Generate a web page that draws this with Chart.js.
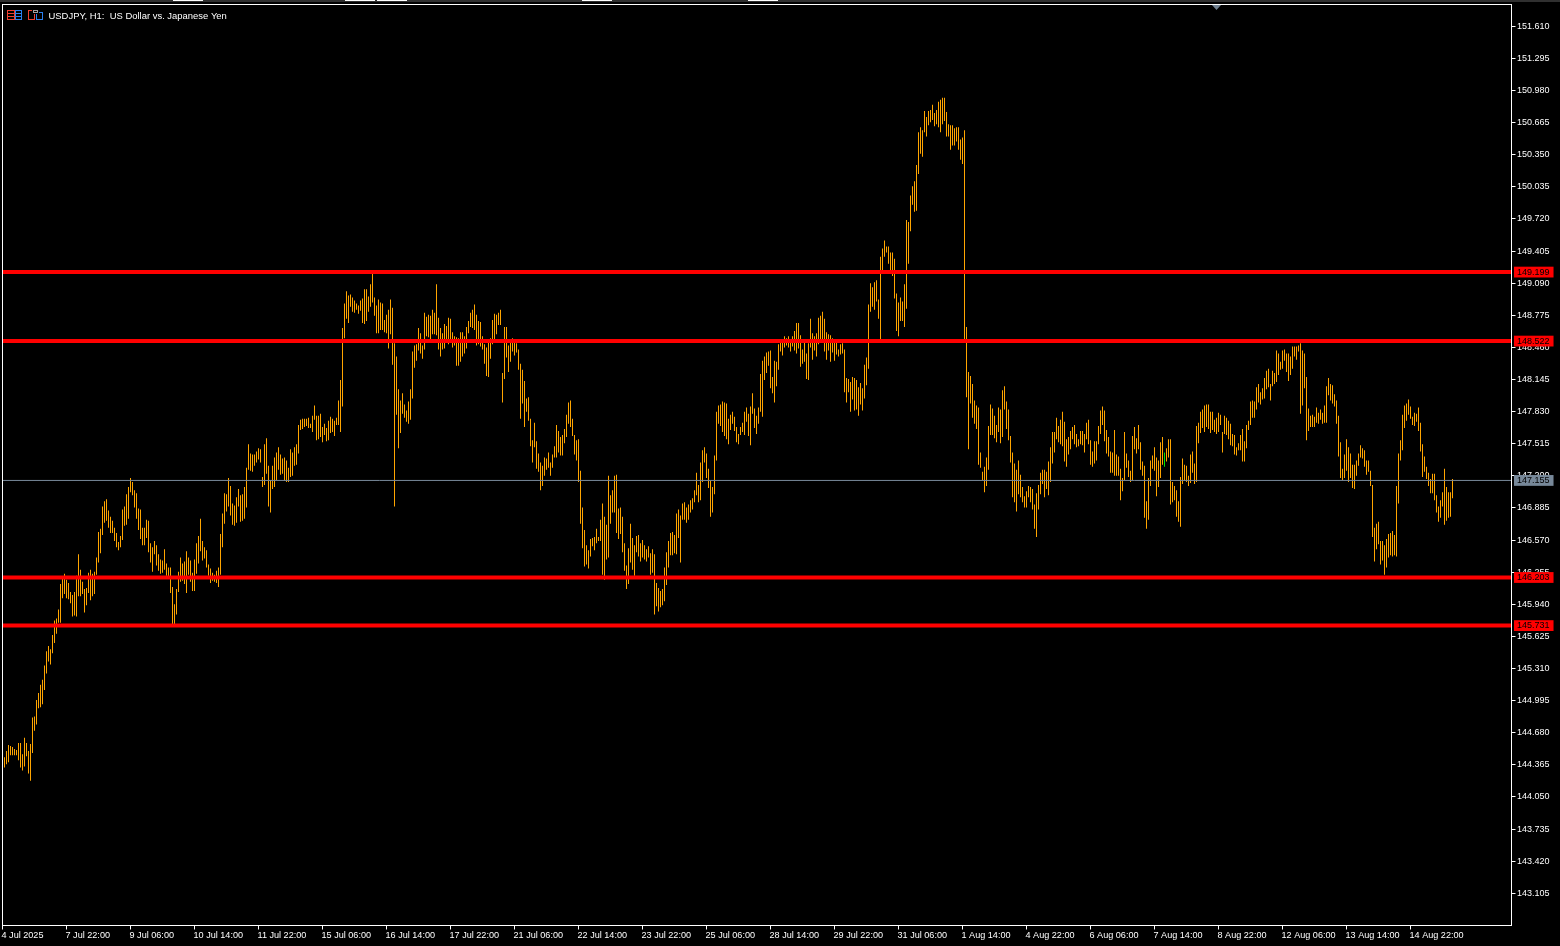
<!DOCTYPE html>
<html>
<head>
<meta charset="utf-8">
<title>USDJPY, H1</title>
<script src="https://cdn.jsdelivr.net/npm/chart.js@4"></script>
<style>
html, body { margin: 0; padding: 0; background: #000; }
canvas { display: block; }
</style>
</head>
<body>
<canvas id="priceChart" width="1560" height="946"></canvas>
<script>
// H1 bar highs and lows, first visible bar to last
const highs = [
144.44,144.50,144.56,144.55,144.54,144.52,144.51,144.58,144.58,144.47,
144.63,144.58,144.50,144.57,144.83,144.84,145.00,145.07,145.15,145.20,
145.34,145.48,145.53,145.50,145.64,145.78,145.80,145.89,146.14,146.19,
146.24,146.18,146.15,146.06,146.03,146.06,146.22,146.43,146.28,146.16,
146.09,146.10,146.25,146.28,146.24,146.26,146.40,146.65,146.68,146.90,
146.95,146.97,146.86,146.80,146.76,146.69,146.64,146.55,146.61,146.87,
146.90,147.02,147.09,147.18,147.14,147.06,147.03,146.88,146.87,146.69,
146.69,146.77,146.76,146.54,146.50,146.56,146.52,146.43,146.38,146.37,
146.48,146.34,146.30,146.30,146.11,145.94,146.09,146.26,146.40,146.34,
146.36,146.46,146.40,146.37,146.25,146.38,146.54,146.61,146.78,146.56,
146.50,146.47,146.33,146.29,146.25,146.23,146.27,146.30,146.63,146.83,
147.03,147.02,147.18,147.10,146.93,146.91,146.99,147.07,147.01,147.02,
147.09,147.28,147.51,147.42,147.41,147.41,147.44,147.47,147.46,147.19,
147.51,147.57,147.30,147.16,147.30,147.38,147.43,147.48,147.41,147.37,
147.38,147.35,147.28,147.46,147.43,147.48,147.51,147.70,147.75,147.76,
147.76,147.76,147.77,147.71,147.79,147.89,147.79,147.79,147.81,147.68,
147.71,147.67,147.74,147.78,147.76,147.74,147.77,147.94,148.14,148.65,
148.89,149.01,148.97,148.98,148.95,148.92,148.89,148.87,148.92,148.94,
149.03,149.03,148.96,149.08,149.18,148.95,148.87,148.93,148.90,148.89,
148.73,148.78,148.83,148.93,148.85,148.50,148.37,148.05,147.94,148.01,
147.90,147.84,147.93,148.05,148.42,148.48,148.49,148.65,148.60,148.48,
148.80,148.76,148.78,148.77,148.83,148.80,149.08,148.75,148.65,148.60,
148.69,148.67,148.75,148.74,148.61,148.57,148.56,148.55,148.61,148.61,
148.57,148.66,148.72,148.80,148.83,148.88,148.78,148.72,148.71,148.57,
148.49,148.46,148.51,148.55,148.73,148.79,148.78,148.80,148.83,148.21,
148.66,148.66,148.48,148.54,148.55,148.52,148.50,148.44,148.30,148.24,
148.13,147.96,147.97,147.76,147.55,147.72,147.54,147.42,147.33,147.30,
147.38,147.37,147.43,147.33,147.41,147.49,147.70,147.64,147.58,147.60,
147.66,147.80,147.92,147.94,147.76,147.60,147.55,147.56,147.25,146.89,
146.67,146.52,146.47,146.58,146.59,146.60,146.68,146.60,146.77,146.93,
146.80,146.72,147.20,147.01,147.06,147.20,147.21,146.88,146.89,146.80,
146.54,146.32,146.49,146.73,146.59,146.52,146.61,146.62,146.54,146.57,
146.52,146.48,146.51,146.44,146.48,146.43,146.15,146.10,146.07,146.09,
146.30,146.45,146.56,146.64,146.65,146.62,146.83,146.87,146.81,146.93,
146.94,146.89,146.92,146.96,146.98,147.06,147.23,147.11,147.33,147.45,
147.48,147.42,147.27,147.15,147.09,147.40,147.83,147.89,147.90,147.93,
147.92,147.91,147.76,147.80,147.83,147.78,147.68,147.61,147.68,147.72,
147.83,147.87,147.81,147.88,148.01,147.86,147.79,147.87,148.20,148.33,
148.37,148.41,148.42,148.43,148.17,148.33,148.32,148.49,148.53,148.52,
148.57,148.55,148.57,148.53,148.57,148.62,148.70,148.70,148.58,148.44,
148.52,148.40,148.50,148.74,148.60,148.57,148.60,148.75,148.77,148.81,
148.74,148.61,148.59,148.58,148.55,148.54,148.53,148.44,148.49,148.50,
148.44,148.16,148.15,148.12,148.17,148.16,148.14,148.07,148.11,148.06,
148.29,148.36,148.88,149.09,149.05,149.10,149.12,148.93,149.35,149.43,
149.51,149.45,149.45,149.39,149.39,149.33,148.99,148.90,148.95,148.91,
149.08,149.71,149.69,149.95,150.04,150.09,150.25,150.57,150.62,150.59,
150.78,150.72,150.78,150.79,150.84,150.76,150.79,150.87,150.89,150.91,
150.91,150.77,150.65,150.64,150.64,150.61,150.62,150.62,150.50,150.52,
150.59,148.66,148.22,148.18,148.10,147.94,147.89,147.87,147.43,147.24,
147.29,147.38,147.69,147.90,147.86,147.79,147.70,147.87,147.85,148.04,
148.08,147.93,147.85,147.59,147.43,147.32,147.26,147.35,147.21,147.09,
147.00,147.05,147.10,147.09,147.07,146.92,147.03,147.11,147.23,147.26,
147.26,147.24,147.34,147.48,147.63,147.63,147.77,147.69,147.75,147.83,
147.73,147.56,147.58,147.64,147.68,147.70,147.61,147.56,147.64,147.64,
147.61,147.72,147.75,147.55,147.44,147.54,147.54,147.69,147.84,147.88,
147.84,147.65,147.58,147.44,147.43,147.65,147.41,147.39,147.27,147.18,
147.63,147.42,147.35,147.25,147.59,147.68,147.57,147.70,147.53,147.34,
147.30,146.95,147.18,147.35,147.40,147.48,147.38,147.35,147.53,147.58,
147.43,147.47,147.56,147.56,147.14,147.10,147.06,146.95,147.19,147.37,
147.31,147.30,147.20,147.41,147.44,147.32,147.69,147.72,147.83,147.85,
147.89,147.90,147.90,147.83,147.83,147.75,147.77,147.82,147.80,147.63,
147.79,147.77,147.74,147.71,147.61,147.60,147.48,147.52,147.60,147.66,
147.54,147.70,147.74,147.93,147.94,147.93,148.07,148.10,148.02,148.06,
148.16,148.23,148.25,148.10,148.23,148.21,148.43,148.40,148.32,148.43,
148.44,148.40,148.40,148.37,148.47,148.47,148.47,148.48,148.50,148.43,
148.40,148.17,147.86,147.79,147.80,147.78,147.87,147.82,147.85,147.82,
147.89,148.08,148.16,148.10,148.09,148.00,147.94,147.79,147.53,147.27,
147.41,147.56,147.48,147.42,147.31,147.31,147.35,147.42,147.50,147.47,
147.45,147.35,147.35,147.25,147.11,146.69,146.73,146.75,146.56,146.56,
146.52,146.58,146.63,146.64,146.66,146.62,147.10,147.42,147.55,147.80,
147.89,147.91,147.95,147.88,147.78,147.82,147.81,147.87,147.72,147.51,
147.39,147.29,147.23,147.17,147.22,147.22,147.01,146.90,146.96,147.04,
147.27,147.09,147.04,147.04,147.17
];
const lows = [
144.34,144.37,144.39,144.46,144.46,144.46,144.46,144.41,144.34,144.31,
144.35,144.45,144.28,144.21,144.48,144.70,144.76,144.92,144.93,144.96,
145.10,145.26,145.38,145.35,145.46,145.56,145.65,145.76,145.76,146.00,
146.04,146.00,145.99,145.95,145.82,145.83,145.82,146.02,146.02,146.04,
145.86,145.93,146.05,145.98,146.02,146.04,146.23,146.35,146.44,146.62,
146.74,146.76,146.69,146.64,146.64,146.56,146.50,146.47,146.50,146.57,
146.71,146.72,146.78,147.04,147.01,146.89,146.78,146.67,146.58,146.52,
146.52,146.59,146.45,146.35,146.26,146.43,146.32,146.27,146.24,146.25,
146.28,146.22,146.21,146.05,145.73,145.73,145.84,146.06,146.16,146.17,
146.14,146.05,146.23,146.16,146.07,146.07,146.24,146.34,146.46,146.37,
146.39,146.30,146.22,146.15,146.17,146.16,146.15,146.11,146.23,146.50,
146.73,146.85,146.90,146.81,146.72,146.71,146.74,146.90,146.75,146.76,
146.78,146.89,147.26,147.25,147.24,147.30,147.33,147.36,147.33,147.09,
147.11,147.22,146.90,146.84,147.07,147.09,147.16,147.26,147.21,147.22,
147.15,147.14,147.14,147.19,147.20,147.30,147.31,147.42,147.65,147.66,
147.68,147.69,147.67,147.67,147.63,147.75,147.55,147.56,147.58,147.53,
147.60,147.54,147.55,147.62,147.63,147.59,147.70,147.70,147.63,147.88,
148.55,148.74,148.70,148.86,148.81,148.80,148.83,148.79,148.82,148.70,
148.69,148.72,148.81,148.86,148.90,148.77,148.60,148.60,148.63,148.63,
148.61,148.60,148.45,148.59,148.29,146.90,147.80,147.47,147.62,147.81,
147.77,147.73,147.71,147.75,147.96,148.26,148.33,148.43,148.40,148.35,
148.44,148.57,148.56,148.54,148.59,148.59,148.58,148.44,148.37,148.44,
148.45,148.51,148.49,148.51,148.46,148.48,148.28,148.28,148.32,148.37,
148.40,148.45,148.60,148.66,148.65,148.63,148.48,148.49,148.47,148.44,
148.30,148.18,148.17,148.35,148.49,148.54,148.59,148.68,148.68,147.92,
148.15,148.36,148.22,148.32,148.42,148.38,148.41,148.24,147.76,147.91,
147.68,147.83,147.74,147.49,147.33,147.48,147.27,147.24,147.06,147.10,
147.20,147.26,147.28,147.20,147.28,147.38,147.38,147.43,147.40,147.40,
147.52,147.58,147.71,147.68,147.59,147.41,147.35,147.14,146.73,146.49,
146.31,146.33,146.29,146.41,146.51,146.47,146.54,146.56,146.56,146.23,
146.18,146.38,146.40,146.73,146.84,146.84,146.64,146.58,146.63,146.45,
146.27,146.09,146.14,146.35,146.28,146.22,146.45,146.41,146.36,146.40,
146.38,146.36,146.40,146.23,146.25,145.84,145.92,145.87,145.91,145.93,
145.97,146.13,146.30,146.42,146.42,146.44,146.43,146.59,146.35,146.77,
146.77,146.74,146.77,146.84,146.87,146.94,147.01,146.94,146.96,147.14,
147.33,147.18,147.08,146.80,146.84,147.02,147.35,147.71,147.69,147.63,
147.59,147.56,147.51,147.65,147.71,147.64,147.53,147.51,147.60,147.63,
147.60,147.73,147.59,147.50,147.81,147.67,147.61,147.71,147.83,147.78,
148.14,148.21,148.28,148.06,148.01,147.92,148.08,148.24,148.42,148.38,
148.46,148.48,148.46,148.42,148.47,148.43,148.40,148.45,148.27,148.30,
148.32,148.15,148.14,148.46,148.34,148.43,148.37,148.49,148.53,148.53,
148.42,148.34,148.43,148.32,148.41,148.33,148.39,148.37,148.39,148.40,
148.02,147.92,148.02,147.83,147.95,147.84,147.85,147.79,147.90,147.84,
147.96,148.09,148.25,148.81,148.86,148.83,148.91,148.74,148.53,149.22,
149.35,149.39,149.28,149.22,149.16,148.94,148.62,148.57,148.72,148.72,
148.66,148.84,149.28,149.60,149.86,149.79,149.80,150.16,150.36,150.33,
150.57,150.53,150.64,150.67,150.69,150.63,150.65,150.62,150.57,150.65,
150.68,150.53,150.53,150.40,150.44,150.44,150.48,150.40,150.30,150.26,
148.52,147.97,147.46,147.91,147.77,147.71,147.66,147.31,147.28,147.16,
147.04,147.10,147.26,147.60,147.60,147.57,147.53,147.63,147.52,147.58,
147.85,147.66,147.55,147.33,146.99,146.94,146.85,147.02,146.99,146.94,
146.89,146.89,146.99,146.94,146.87,146.68,146.60,146.87,147.02,147.12,
146.99,147.07,147.01,147.14,147.32,147.43,147.56,147.53,147.51,147.49,
147.34,147.29,147.41,147.46,147.56,147.51,147.48,147.49,147.51,147.50,
147.43,147.56,147.51,147.31,147.29,147.32,147.35,147.51,147.61,147.70,
147.54,147.42,147.39,147.23,147.23,147.20,147.20,147.20,146.96,147.05,
147.16,147.28,147.19,147.14,147.16,147.46,147.42,147.46,147.26,147.20,
146.79,146.68,146.77,147.10,147.27,147.25,147.00,147.09,147.18,147.31,
147.29,147.34,147.38,146.92,146.94,146.96,146.80,146.75,146.70,147.12,
147.15,147.14,147.10,147.13,147.23,147.12,147.14,147.52,147.62,147.67,
147.63,147.68,147.66,147.62,147.65,147.63,147.61,147.63,147.70,147.43,
147.61,147.60,147.56,147.50,147.49,147.41,147.40,147.45,147.45,147.34,
147.34,147.47,147.65,147.70,147.77,147.77,147.85,147.92,147.90,147.95,
147.96,148.05,148.07,147.94,148.08,148.10,148.12,148.19,148.24,148.25,
148.33,148.22,148.13,148.19,148.25,148.37,148.34,148.42,147.81,147.89,
148.06,147.55,147.64,147.68,147.68,147.68,147.72,147.71,147.75,147.71,
147.72,147.72,147.99,147.94,147.91,147.88,147.71,147.39,147.18,147.16,
147.18,147.25,147.14,147.18,147.08,147.07,147.20,147.30,147.38,147.37,
147.29,147.21,147.24,147.10,146.60,146.36,146.48,146.53,146.33,146.37,
146.23,146.30,146.40,146.42,146.41,146.42,146.41,146.93,147.35,147.45,
147.67,147.74,147.80,147.76,147.70,147.69,147.73,147.64,147.44,147.19,
147.24,147.17,147.10,147.03,147.03,146.96,146.84,146.75,146.79,146.90,
146.72,146.76,146.79,146.80,146.98
];
const upBars = [581];

const priceTicks = [
151.610,151.295,150.980,150.665,150.350,150.035,149.720,149.405,149.090,148.775,
148.460,148.145,147.830,147.515,147.200,146.885,146.570,146.255,145.940,145.625,
145.310,144.995,144.680,144.365,144.050,143.735,143.420,143.105
];
const timeTicks = [
'4 Jul 2025','7 Jul 22:00','9 Jul 06:00','10 Jul 14:00','11 Jul 22:00','15 Jul 06:00',
'16 Jul 14:00','17 Jul 22:00','21 Jul 06:00','22 Jul 14:00','23 Jul 22:00','25 Jul 06:00',
'28 Jul 14:00','29 Jul 22:00','31 Jul 06:00','1 Aug 14:00','4 Aug 22:00','6 Aug 06:00',
'7 Aug 14:00','8 Aug 22:00','12 Aug 06:00','13 Aug 14:00','14 Aug 22:00'
];
const redLevels = [149.199, 148.522, 146.203, 145.731];
const lastPrice = 147.155;

const ORANGE = '#ffa500';
const GREEN = '#00e600';
const RED = '#ff0000';
const GREY = '#778899';
const BARS_ON_X = 754.5; // 2px per bar across the plot
const isLevel = v => redLevels.includes(v) || v === lastPrice;

// hline dataset across the whole plot
function levelLine(value, color, width) {
    return {
        type: 'line',
        data: [{ x: 0, y: value }, { x: BARS_ON_X, y: value }],
        borderColor: color,
        borderWidth: width,
        pointRadius: 0,
        order: 1
    };
}

// terminal frame, icons and symbol caption
const terminalChrome = {
    id: 'terminalChrome',
    afterDraw(chart) {
        const ctx = chart.ctx;
        const area = chart.chartArea;
        ctx.save();
        ctx.fillStyle = '#303030';
        ctx.fillRect(0, 0, 1560, 2);
        ctx.fillStyle = '#fff';
        [[173, 30], [345, 30], [377, 30], [582, 30], [748, 30]].forEach(b => ctx.fillRect(b[0], 0, b[1], 1));

        ctx.strokeStyle = '#fff';
        ctx.lineWidth = 1;
        ctx.strokeRect(area.left, area.top, area.right - area.left, area.bottom - area.top);

        // small marker on the top edge
        ctx.fillStyle = '#708090';
        ctx.beginPath();
        ctx.moveTo(1212, 5);
        ctx.lineTo(1221, 5);
        ctx.lineTo(1216.5, 10);
        ctx.fill();

        // chart window icons
        ctx.lineWidth = 1;
        ctx.strokeStyle = '#f04030';
        ctx.strokeRect(7.5, 10.5, 7, 9);
        ctx.beginPath();
        [13, 16].forEach(y => { ctx.moveTo(8, y + 0.5); ctx.lineTo(14, y + 0.5); });
        ctx.stroke();
        ctx.strokeStyle = '#2a80f0';
        ctx.strokeRect(15.5, 10.5, 6, 9);
        ctx.beginPath();
        [13, 16].forEach(y => { ctx.moveTo(16, y + 0.5); ctx.lineTo(21, y + 0.5); });
        ctx.stroke();
        ctx.strokeStyle = '#f04030';
        ctx.strokeRect(28.5, 10.5, 6, 9);
        ctx.strokeStyle = '#2a80f0';
        ctx.strokeRect(36.5, 12.5, 6, 7);
        ctx.fillStyle = '#000';
        ctx.fillRect(32, 9, 7, 5);
        ctx.strokeStyle = '#a0a0a0';
        ctx.strokeRect(33.5, 10.5, 4, 2);

        ctx.fillStyle = '#fff';
        ctx.font = "9.45px 'Liberation Sans', sans-serif";
        ctx.textBaseline = 'alphabetic';
        ctx.fillText('USDJPY, H1:  US Dollar vs. Japanese Yen', 48.5, 19);
        ctx.restore();
    }
};

new Chart(document.getElementById('priceChart'), {
    type: 'bar',
    data: {
        datasets: [
            levelLine(lastPrice, GREY, 1),
            ...redLevels.map(v => levelLine(v, RED, 4)),
            {
                type: 'bar',
                data: highs.map((h, i) => ({ x: i + 1, y: [lows[i], h] })),
                backgroundColor: highs.map((h, i) => upBars.includes(i + 1) ? GREEN : ORANGE),
                barThickness: 1,
                inflateAmount: 0,
                borderWidth: 0,
                order: 2
            }
        ]
    },
    options: {
        responsive: false,
        animation: false,
        devicePixelRatio: 1,
        events: [],
        layout: { padding: { left: 2.5, top: 4.5, right: 0, bottom: 0 } },
        plugins: {
            legend: { display: false },
            tooltip: { enabled: false }
        },
        scales: {
            x: {
                type: 'linear',
                min: 0,
                max: BARS_ON_X,
                offset: false,
                border: { color: '#fff' },
                grid: { offset: false, drawOnChartArea: false, color: '#fff', tickLength: 4 },
                ticks: {
                    color: '#fff',
                    font: { family: "'Liberation Sans', sans-serif", size: 9.1 },
                    align: 'start',
                    labelOffset: -1,
                    padding: 1,
                    maxRotation: 0,
                    autoSkip: false,
                    callback: (v, i) => timeTicks[i]
                },
                afterBuildTicks: s => { s.ticks = timeTicks.map((t, k) => ({ value: 32 * k })); },
                afterFit: s => { s.height = 20.5; s.paddingLeft = 0; s.paddingRight = 0; }
            },
            y: {
                type: 'linear',
                position: 'right',
                min: 142.789,
                max: 151.824,
                border: { color: '#fff' },
                grid: {
                    drawOnChartArea: false,
                    color: '#fff',
                    tickLength: 4,
                    tickColor: c => isLevel(c.tick.value) ? 'rgba(0,0,0,0)' : '#fff'
                },
                ticks: {
                    font: { family: "'Liberation Sans', sans-serif", size: 9 },
                    padding: 1.5,
                    crossAlign: 'near',
                    autoSkip: false,
                    color: c => isLevel(c.tick.value) ? '#000' : '#fff',
                    showLabelBackdrop: c => isLevel(c.tick.value),
                    backdropColor: c => c.tick.value === lastPrice ? GREY : RED,
                    backdropPadding: { left: 3, right: 4, top: 0, bottom: 0 },
                    callback: v => v.toFixed(3)
                },
                afterBuildTicks: s => {
                    s.ticks = [...priceTicks, lastPrice, ...redLevels].map(v => ({ value: v }));
                },
                afterFit: s => { s.width = 48.5; s.paddingTop = 0; s.paddingBottom = 0; }
            }
        }
    },
    plugins: [terminalChrome]
});
</script>
</body>
</html>
